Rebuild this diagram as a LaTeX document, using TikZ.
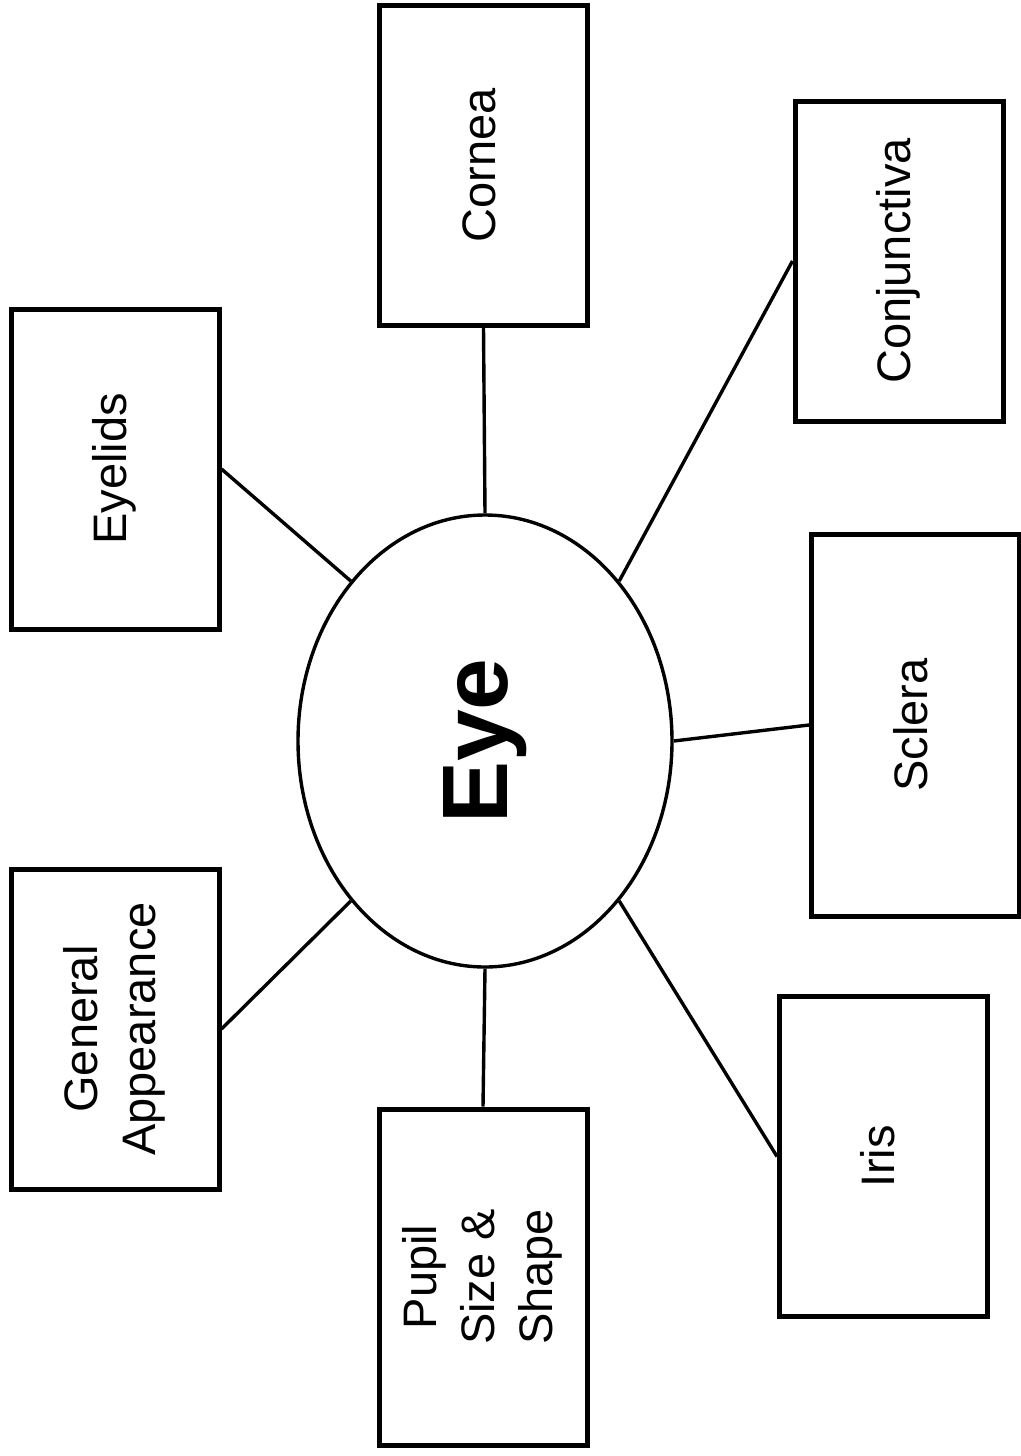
\documentclass[tikz,border=0pt]{standalone}
\usepackage{fontspec}
\setmainfont{Liberation Sans}
\usetikzlibrary{shapes.geometric}
\tikzset{
  box/.style={draw=black, line width=5pt, rectangle, inner sep=0pt, minimum width=208pt, minimum height=320pt, fill=white},
  lbl/.style={font=\fontsize{47}{58}\selectfont},
  conn/.style={draw=black, line width=3.4pt},
}
\newcommand{\rtext}[1]{\rotatebox{90}{\fontsize{47}{58}\selectfont\begin{tabular}{@{}c@{}}#1\end{tabular}}}
\begin{document}
\begin{tikzpicture}[x=1pt,y=-1pt]
\useasboundingbox (0,0) rectangle (1020,1456);
\fill[white] (0,0) rectangle (1020,1456);
\node[ellipse, draw=black, line width=3.4pt, minimum width=374pt, minimum height=452pt, inner sep=0pt] (eye) at (485,741) {\rotatebox{90}{\fontsize{93}{100}\selectfont\bfseries Eye}};
\node[box] (cornea) at (483.5,165) {\rtext{Cornea}};
\node[box] (conj) at (899,261) {\rtext{Conjunctiva}};
\node[box] (eyelids) at (115,469) {\rtext{Eyelids}};
\node[box, minimum height=382pt] (sclera) at (915.5,725) {\rtext{Sclera}};
\node[box] (general) at (115,1029) {\rtext{General\\Appearance}};
\node[box, minimum height=336pt] (pupil) at (483,1277) {\rtext{Pupil\\Size \&\\Shape}};
\node[box, minimum width=207.5pt] (iris) at (883.25,1156.5) {\rtext{Iris}};
\draw[conn] (cornea.south) -- (eye.north);
\draw[conn] (conj.west) -- (eye.50);
\draw[conn] (eyelids.east) -- (eye.130);
\draw[conn] (sclera.west) -- (eye.east);
\draw[conn] (general.east) -- (eye.230);
\draw[conn] (pupil.north) -- (eye.south);
\draw[conn] (iris.west) -- (eye.310);
\end{tikzpicture}
\end{document}
